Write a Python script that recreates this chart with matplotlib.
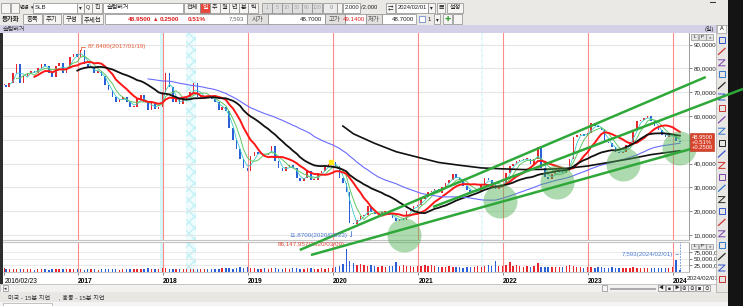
# SLB (슬럼버거) price chart - HTS screen recreation

import numpy as np
import pandas as pd
import matplotlib
matplotlib.use("Agg")
import matplotlib.pyplot as plt
import matplotlib.dates as mdates
from matplotlib.patches import Rectangle
from matplotlib.lines import Line2D

plt.rcParams['font.family'] = ['Liberation Sans', 'Noto Sans CJK KR', 'DejaVu Sans']

# Step 1: values (closes on the 1st and 15th of each month)
close_2016 = [73, 72, 74, 78, 82, 74, 77, 78, 79, 78, 80, 82, 81, 78, 76.5, 81, 82.5, 78, 80, 85, 86]
close_2017 = [85, 87.8, 82, 80, 80, 78, 79, 77, 73, 71, 68, 66, 67, 68, 66, 64, 64, 67, 68.8, 66, 62.5, 66, 63, 64]
close_2018 = [70, 78, 72, 66, 67, 65, 67, 68, 70, 74, 68, 68, 68.5, 68, 67, 66, 62.5, 64, 62, 55, 50, 46, 42, 38]
close_2019 = [37, 43, 45, 44, 44, 43.6, 44.5, 47.5, 41, 38, 37, 38.5, 39.5, 38, 34, 32.5, 34, 37, 33, 33, 36, 37, 38.5, 40]
close_2020 = [40.5, 39, 34, 32, 28, 15, 14.5, 16.5, 18, 18.5, 22, 19.5, 19, 19, 19.5, 19.5, 18.5, 17, 16, 16.5, 16.5, 20, 21, 22]
close_2021 = [22.5, 25, 26, 28, 28.5, 29.5, 27.5, 30, 32, 33, 35.5, 34, 33, 30.5, 29, 28, 28.5, 28.5, 31, 34, 33, 31, 29.5, 30.5]
close_2022 = [31.5, 36, 39, 40, 41, 41.5, 42, 42, 40, 42, 47, 38, 34.5, 33.5, 35.5, 36.5, 37, 36, 37, 42, 51, 52, 52.5, 51.5]
close_2023 = [53, 57, 56, 55.5, 54, 49, 48.5, 47, 45, 44.5, 45, 48, 49, 54, 58, 58.5, 59, 60, 58, 56, 54, 52, 51, 52]
close_2024 = [52, 49.5, 48.95]

# volume in millions of shares
vol_2016 = [14, 12, 11, 13, 10, 12, 11, 10, 12, 9, 11, 10, 12, 9, 10, 12, 11, 10, 13, 11, 12]
vol_2017 = [12, 10, 9, 11, 10, 12, 9, 11, 13, 10, 12, 11, 9, 10, 12, 11, 10, 13, 12, 11, 14, 10, 11, 12]
vol_2018 = [14, 16, 13, 12, 11, 12, 10, 11, 13, 12, 11, 10, 12, 11, 13, 12, 11, 14, 16, 14, 13, 15, 17, 16]
vol_2019 = [18, 16, 14, 13, 12, 14, 13, 15, 14, 13, 12, 14, 13, 15, 14, 13, 12, 14, 15, 13, 12, 14, 13, 15]
vol_2020 = [16, 18, 22, 30, 86.1, 40, 32, 28, 30, 26, 24, 27, 22, 20, 21, 19, 22, 24, 36, 23, 26, 22, 24, 20]
vol_2021 = [24, 22, 26, 24, 28, 22, 20, 18, 19, 21, 18, 20, 17, 16, 18, 17, 19, 22, 20, 24, 26, 22, 40, 21]
vol_2022 = [22, 25, 38, 24, 26, 22, 20, 21, 19, 22, 32, 20, 18, 19, 17, 18, 20, 19, 22, 26, 21, 18, 17, 16]
vol_2023 = [17, 18, 16, 19, 17, 16, 15, 17, 16, 15, 14, 16, 15, 17, 16, 15, 14, 16, 15, 14, 16, 15, 14, 16]
vol_2024 = [18, 45, 7.593]

# long black average line, read at quarter points
long_ma_dates = ["2020-02-15", "2020-04-01", "2020-07-01", "2020-10-01", "2021-01-01", "2021-04-01",
                 "2021-07-01", "2021-10-01", "2022-01-01", "2022-04-01", "2022-07-01", "2022-10-01",
                 "2023-01-01", "2023-04-01", "2023-07-01", "2023-10-01", "2024-02-01"]
long_ma_vals = [55.8, 52.5, 48.5, 45.0, 42.7, 40.5, 39.3, 38.2, 37.8, 37.5, 37.6, 38.0,
                39.0, 40.5, 42.0, 43.8, 45.4]

# user drawn trend lines and circles
trend_lines = [(("2019-08-14", 3.7), ("2024-05-22", 76.4)),
               (("2021-03-08", 21.8), ("2024-10-29", 71.4)),
               (("2019-10-01", 1.6), ("2024-05-18", 47.8))]
circle_dates = ["2020-11-02", "2021-12-20", "2022-08-22", "2023-06-03", "2024-01-26"]
circle_prices = [10.0, 24.3, 32.3, 39.8, 46.4]

high_point = ("2017-01-19", 87.84)
low_point = ("2020-03-23", 11.87)
vol_max_point = ("2020-03-09", 86.147957)
last_date = "2024-02-01"

year_starts = ["2017-01-03", "2018-01-02", "2019-01-02", "2020-01-02",
               "2021-01-04", "2022-01-03", "2023-01-03", "2024-01-02"]
year_labels = ["2017", "2018", "2019", "2020", "2021", "2022", "2023", "2024"]


def dn(s):
    return mdates.date2num(pd.Timestamp(s).to_pydatetime())


dates = pd.DatetimeIndex(["2016-02-23"]).append(pd.date_range("2016-03-01", "2024-02-01", freq="SMS"))
x = mdates.date2num(dates.to_pydatetime())
close = np.array(close_2016 + close_2017 + close_2018 + close_2019 + close_2020 +
                 close_2021 + close_2022 + close_2023 + close_2024)
vol = np.array(vol_2016 + vol_2017 + vol_2018 + vol_2019 + vol_2020 +
               vol_2021 + vol_2022 + vol_2023 + vol_2024)

# Step 2: window frame
W, H = 743, 306
fig = plt.figure(figsize=(W / 100, H / 100), dpi=100)
fig.patch.set_facecolor('#ebe9e6')


def rect(x0, y0, x1, y1, fc, ec='none', lw=0.5, z=1, hatch=None):
    fig.patches.append(Rectangle((x0 / W, 1 - y1 / H), (x1 - x0) / W, (y1 - y0) / H,
                                 transform=fig.transFigure, facecolor=fc, edgecolor=ec,
                                 linewidth=lw, zorder=z, hatch=hatch))


def label(x0, y0, s, size=4.6, color='#222222', ha='left', weight='normal', z=3):
    fig.text(x0 / W, 1 - y0 / H, s, fontsize=size, color=color, ha=ha, va='center',
             fontweight=weight, zorder=z)


def button(x0, x1, y0, y1, s, fc='#f6f5f3', color='#222222', size=4.6, weight='normal'):
    rect(x0, y0, x1, y1, fc, ec='#8a8a8a', lw=0.5, z=2)
    label((x0 + x1) / 2, (y0 + y1) / 2 + 0.3, s, size=size, color=color, ha='center', weight=weight)


# row 1
button(1, 10, 2.5, 12.5, '')
button(11, 19, 2.5, 12.5, '')
label(20, 7.5, '변경', size=3.8)
label(30.5, 7.5, '▾', size=3.4)
rect(33, 2.5, 77, 12.5, 'white', ec='#8a8a8a')
label(35, 7.7, 'SLB', size=4.4)
button(77, 84, 2.5, 12.5, '▾', size=4)
button(84, 92, 2.5, 12.5, 'Q', size=4)
button(92, 102, 2.5, 12.5, '진', size=4.4)
rect(103, 2.5, 183, 12.5, 'white', ec='#8a8a8a')
label(107, 7.5, '슬럼버거', size=4.4)
button(184, 200, 2.5, 12.5, '전체', size=4.4)
button(200, 210, 2.5, 12.5, '일', fc='#e9473b', color='white', size=4.4)
for i, s in enumerate(['주', '월', '년', '분', '틱']):
    button(210 + i * 9.6, 219.6 + i * 9.6, 2.5, 12.5, s, size=4.4)
for i, s in enumerate(['1', '5', '10', '30', '60', '120']):
    button(262 + i * 10, 272 + i * 10, 2.5, 12.5, s, fc='#dedede', color='#a5a5a5', size=3.8)
rect(323, 2.5, 337, 12.5, '#ececec', ec='#8a8a8a')
label(333, 7.7, '0', size=4.2, color='#888888', ha='right')
button(337, 342, 2.5, 12.5, '')
rect(343, 2.5, 360, 12.5, 'white', ec='#8a8a8a')
label(359, 7.7, '2.000', size=4.2, ha='right')
label(361, 7.7, '/2.000', size=4.2)
button(386, 395, 2.5, 12.5, '⇄', size=4)
rect(396, 2.5, 428, 12.5, 'white', ec='#8a8a8a')
label(398, 7.7, '2024/02/01', size=4.2)
button(428, 435, 2.5, 12.5, '▾', size=4)
button(437, 445, 2.5, 12.5, '▦', size=4)
button(447, 463, 2.5, 12.5, '설정', size=4.4)
rect(710, 1.5, 716, 2.8, '#333333')

# row 2
label(1.5, 19, '등가화', size=4.6, weight='bold')
button(23, 42, 14, 24, '종목')
button(43, 61, 14, 24, '주기')
button(63, 81, 14, 24, '구성')
button(82, 103, 14, 24, '추세선')
rect(105, 14, 247, 24, 'white', ec='#8a8a8a')
label(128, 19.2, '48.9500', size=4.6, color='#e02020', weight='bold')
label(153, 19.2, '▲', size=4, color='#e02020')
label(160, 19.2, '0.2500', size=4.6, color='#e02020', weight='bold')
label(188, 19.2, '0.51%', size=4.6, color='#e02020', weight='bold')
label(244, 19.2, '7,593', size=4.4, color='#666666', ha='right')
button(247, 268, 14, 24, '시가', fc='#e2e0de', color='#555555')
rect(268, 14, 325, 24, 'white', ec='#8a8a8a')
label(322, 19.2, '48.7000', size=4.4, ha='right')
button(325, 345, 14, 24, '고가', fc='#e2e0de', color='#555555')
rect(345, 14, 366, 24, 'white', ec='#8a8a8a')
label(365, 19.2, '49.1400', size=4.4, color='#e02020', ha='right')
button(366, 382, 14, 24, '저가', fc='#e2e0de', color='#555555')
rect(382, 14, 416, 24, 'white', ec='#8a8a8a')
label(414, 19.2, '48.7000', size=4.4, ha='right')
rect(419, 16, 425, 22, 'white', ec='#5577cc')
label(428, 19.2, '1', size=4.4)
button(434, 440, 14, 24, '▾', size=4)
button(443, 452, 14, 24, '✚', color='#3a9a3a', size=4.5)
button(453, 462, 14, 24, '', size=4)

# row 3, title bar
rect(0, 25, 743, 33, '#d3d0e7')
label(3, 29, '슬럼버거', size=4.4, color='#333333')
label(714, 29, '(일)', size=4.2, ha='right')

# chart background, bottom bars
rect(0, 33, 716, 284, 'white')
rect(0, 33, 2.5, 284, '#2e2e2e')
rect(0, 284, 716, 292, '#f2f1ef', ec='#b5b5b5', lw=0.5)
rect(3, 285, 8, 291, '#f6f6f6', ec='#8a8a8a', lw=0.5)
label(5.5, 288.3, '◂', size=3.5, ha='center')
rect(602, 285, 607, 291, '#f6f6f6', ec='#8a8a8a')
rect(610, 287.5, 655, 288.8, 'white', ec='#8a8a8a')
for i, s in enumerate(['◀', '■', '▶', '⊕', '⊖', '◙', '⊙']):
    button(658 + i * 7.5, 665 + i * 7.5, 285, 291, s, size=3.4)
rect(0, 292, 728, 302, '#e9e7e4')
label(8, 297, '미국 - 15분 지연     , 홍콩 - 15분 지연', size=4.4, color='#333333')
rect(0, 302, 728, 306, '#f4f4f4')
rect(3, 302.5, 52, 306, 'white', ec='#999999', lw=0.4)

# right tool bar and dark edge
rect(716, 25, 728, 292, '#e9e7e4', ec='#a0a0a0', lw=0.4, z=4.5)
rect(717, 25.5, 726, 32.5, 'white', ec='#8a8a8a', lw=0.4, z=4.5)
fig.text(721.5 / W, 1 - 29 / H, 'A', fontsize=4, ha='center', va='center', zorder=4.6)
rect(728, 0, 743, 306, '#141414', z=4.5)
icon_colors = ['#3355cc', '#cc3333', '#7a44aa', '#3377cc', '#2a2a2a']
for i in range(22):
    yc = 40 + i * 11.4
    c = icon_colors[i % len(icon_colors)]
    if i % 3 == 0:
        fig.patches.append(Rectangle(((718.5) / W, 1 - (yc + 3) / H), 6 / W, 6 / H,
                                     transform=fig.transFigure, facecolor='none',
                                     edgecolor=c, linewidth=0.7, zorder=4.6))
    elif i % 3 == 1:
        fig.add_artist(Line2D([718.5 / W, 725 / W], [1 - (yc + 3) / H, 1 - (yc - 3) / H],
                              color=c, lw=0.9, zorder=4.6))
    else:
        fig.add_artist(Line2D([718.5 / W, 725 / W, 718.5 / W, 725 / W],
                              [1 - (yc - 3) / H, 1 - (yc - 3) / H, 1 - (yc + 3) / H, 1 - (yc + 3) / H],
                              color=c, lw=0.7, zorder=4.6))

# Step 3: price pane
ax = fig.add_axes([3 / W, 1 - 240 / H, 686 / W, 207 / H])
axv = fig.add_axes([3 / W, 1 - 272 / H, 686 / W, 30 / H], sharex=ax)
ax.set_zorder(5)
axv.set_zorder(4)

x_left, x_right = dn("2016-02-17"), dn("2024-03-11")
ax.set_xlim(x_left, x_right)
ax.set_ylim(7.9, 94.9)
axv.set_ylim(0, 112)

for a in (ax, axv):
    a.set_facecolor('white')
    for sp in ('top', 'left'):
        a.spines[sp].set_visible(False)
    a.spines['right'].set_color('#8c8c8c')
    a.spines['right'].set_linewidth(0.6)
    a.spines['bottom'].set_color('#c4c4c4')
    a.spines['bottom'].set_linewidth(0.8)
    a.yaxis.tick_right()
    a.tick_params(axis='y', direction='out', length=2.5, width=0.5, color='#555555',
                  labelsize=4.5, pad=0.8, labelcolor='#222222')
    a.set_axisbelow(True)
    for d in year_starts:
        a.axvline(dn(d), color='#ff8a8a', lw=0.8, zorder=1)
    a.axvspan(dn("2017-12-22"), dn("2018-01-05"), color='#d4f7fb', lw=0, zorder=0.5)
    a.axvspan(dn("2018-04-12"), dn("2018-05-25"), facecolor='#eefcfd', edgecolor='#c2f1f6',
              hatch='xxx', lw=0, zorder=0.5)
    a.axvspan(dn("2021-09-30"), dn("2021-10-07"), facecolor='#eefcfd', edgecolor='#c2f1f6',
              hatch='...', lw=0, zorder=0.5)
axv.spines['top'].set_visible(True)
axv.spines['top'].set_color('#c4c4c4')
axv.spines['top'].set_linewidth(0.8)

# the 50 label sits under the current price tag
ax.set_yticks(np.arange(10, 91, 10))
ax.set_yticklabels(["" if v == 50 else f"{v:d},0000" for v in range(10, 91, 10)])
ax.yaxis.grid(True, color='#e6e6e6', lw=0.8)
ax.tick_params(axis='x', bottom=False, labelbottom=False)

axv.set_yticks([25, 50, 75])
axv.set_yticklabels(["25,000,000", "50,000,000", "75,000,000"])
axv.yaxis.grid(True, color='#e6e6e6', lw=0.6)

tick_pos = [dn("2016-02-23")] + [dn(d) for d in year_starts]
axv.set_xticks(tick_pos)
axv.set_xticklabels(["2016/02/23"] + year_labels, ha='left')
axv.tick_params(axis='x', direction='out', length=2.5, width=0.5, color='#555555',
                labelsize=4.8, pad=1.5)
for t in axv.get_xticklabels()[1:]:
    t.set_fontweight('bold')
label(687, 278.5, '2024/02/01', size=4.6)

# candles: body from previous close to close
prev = np.r_[close[0], close[:-1]]
up = close >= prev
colors = np.where(up, '#e8262b', '#2a5fd8')
bottom = np.minimum(prev, close)
height = np.maximum(np.abs(close - prev), 0.4)
ax.bar(x, height, bottom=bottom, width=7, color=colors, lw=0, zorder=3)

# moving averages
s = pd.Series(close)
for w, c, lw in [(3, '#3cc9c9', 0.6), (5, '#62c862', 0.7), (10, '#ff1616', 1.4),
                 (22, '#111111', 1.3), (42, '#6b6bff', 0.8)]:
    ax.plot(x, s.rolling(w).mean(), color=c, lw=lw, zorder=4)
ax.plot([dn(d) for d in long_ma_dates], long_ma_vals, color='#111111', lw=1.2, zorder=4)

# high / low marks
ax.annotate(f"{high_point[1]:.4f}({high_point[0].replace('-', '/')})",
            xy=(dn(high_point[0]), high_point[1]), xytext=(6, 3), textcoords='offset pixels',
            fontsize=4.5, color='#e5603a', va='center', ha='left',
            arrowprops=dict(arrowstyle='-', color='#e5603a', lw=0.6, shrinkA=0, shrinkB=0,
                            connectionstyle='angle,angleA=0,angleB=90,rad=0'), zorder=8)
ax.annotate(f"{low_point[1]:.4f}({low_point[0].replace('-', '/')})",
            xy=(dn(low_point[0]), low_point[1]), xytext=(-4, -5), textcoords='offset pixels',
            fontsize=4.5, color='#4a78d0', va='center', ha='right',
            arrowprops=dict(arrowstyle='-', color='#4a78d0', lw=0.6, shrinkA=0, shrinkB=0,
                            connectionstyle='angle,angleA=0,angleB=90,rad=0'),
            zorder=8, annotation_clip=False)
ax.scatter([dn("2019-12-24")], [40.6], marker='s', s=12, color='#ffe81a', zorder=5)

# current price tag
ax.text(1.004, 48.95, "48.9500\n+0.51%\n+0.2500", transform=ax.get_yaxis_transform(),
        fontsize=4.2, color='white', ha='left', va='center', linespacing=1.05,
        bbox=dict(boxstyle='square,pad=0.25', fc='#d8432c', ec='#b03020', lw=0.4), zorder=9)

# trend lines and circles
for (d0, p0), (d1, p1) in trend_lines:
    ax.plot([dn(d0), dn(d1)], [p0, p1], color='#2fa83a', lw=1.8, clip_on=False,
            zorder=7, solid_capstyle='butt')
ax.scatter([dn(d) for d in circle_dates], circle_prices, s=600, color='#4caf50',
           alpha=0.45, lw=0, zorder=6, clip_on=False)

# Step 4: volume pane
axv.bar(x, vol, width=6, color=colors, lw=0, zorder=3)
axv.axvline(dn(last_date), color='#5b8bd9', lw=0.6, ls=(0, (2, 1.5)), zorder=4)
axv.annotate(f"{vol_max_point[1] * 1e6:,.0f}({vol_max_point[0].replace('-', '/')})",
             xy=(dn(vol_max_point[0]), vol_max_point[1]), xytext=(-3, 4), textcoords='offset pixels',
             fontsize=4.5, color='#e04a3a', ha='right', va='center', zorder=8)
axv.annotate(f"{vol[-1] * 1000:,.0f}({last_date.replace('-', '/')})",
             xy=(dn(last_date), 66), xytext=(-7, 0), textcoords='offset pixels',
             fontsize=4.5, color='#4a78d0', ha='right', va='center', zorder=8,
             arrowprops=dict(arrowstyle='-', color='#5b8bd9', lw=0.6, ls='--', shrinkA=0, shrinkB=0))

# pane corner buttons
for yt in (34.5, 243.5):
    for i, s_ in enumerate(['L', 'P', '×']):
        rect(691 + i * 7.5, yt, 698 + i * 7.5, yt + 5.5, '#e4e4e4', ec='#7a7a7a', lw=0.4, z=4.6)
        fig.text((694.5 + i * 7.5) / W, 1 - (yt + 2.9) / H, s_, fontsize=3.2, ha='center',
                 va='center', zorder=4.7)

fig.savefig("out.png", dpi=100)
